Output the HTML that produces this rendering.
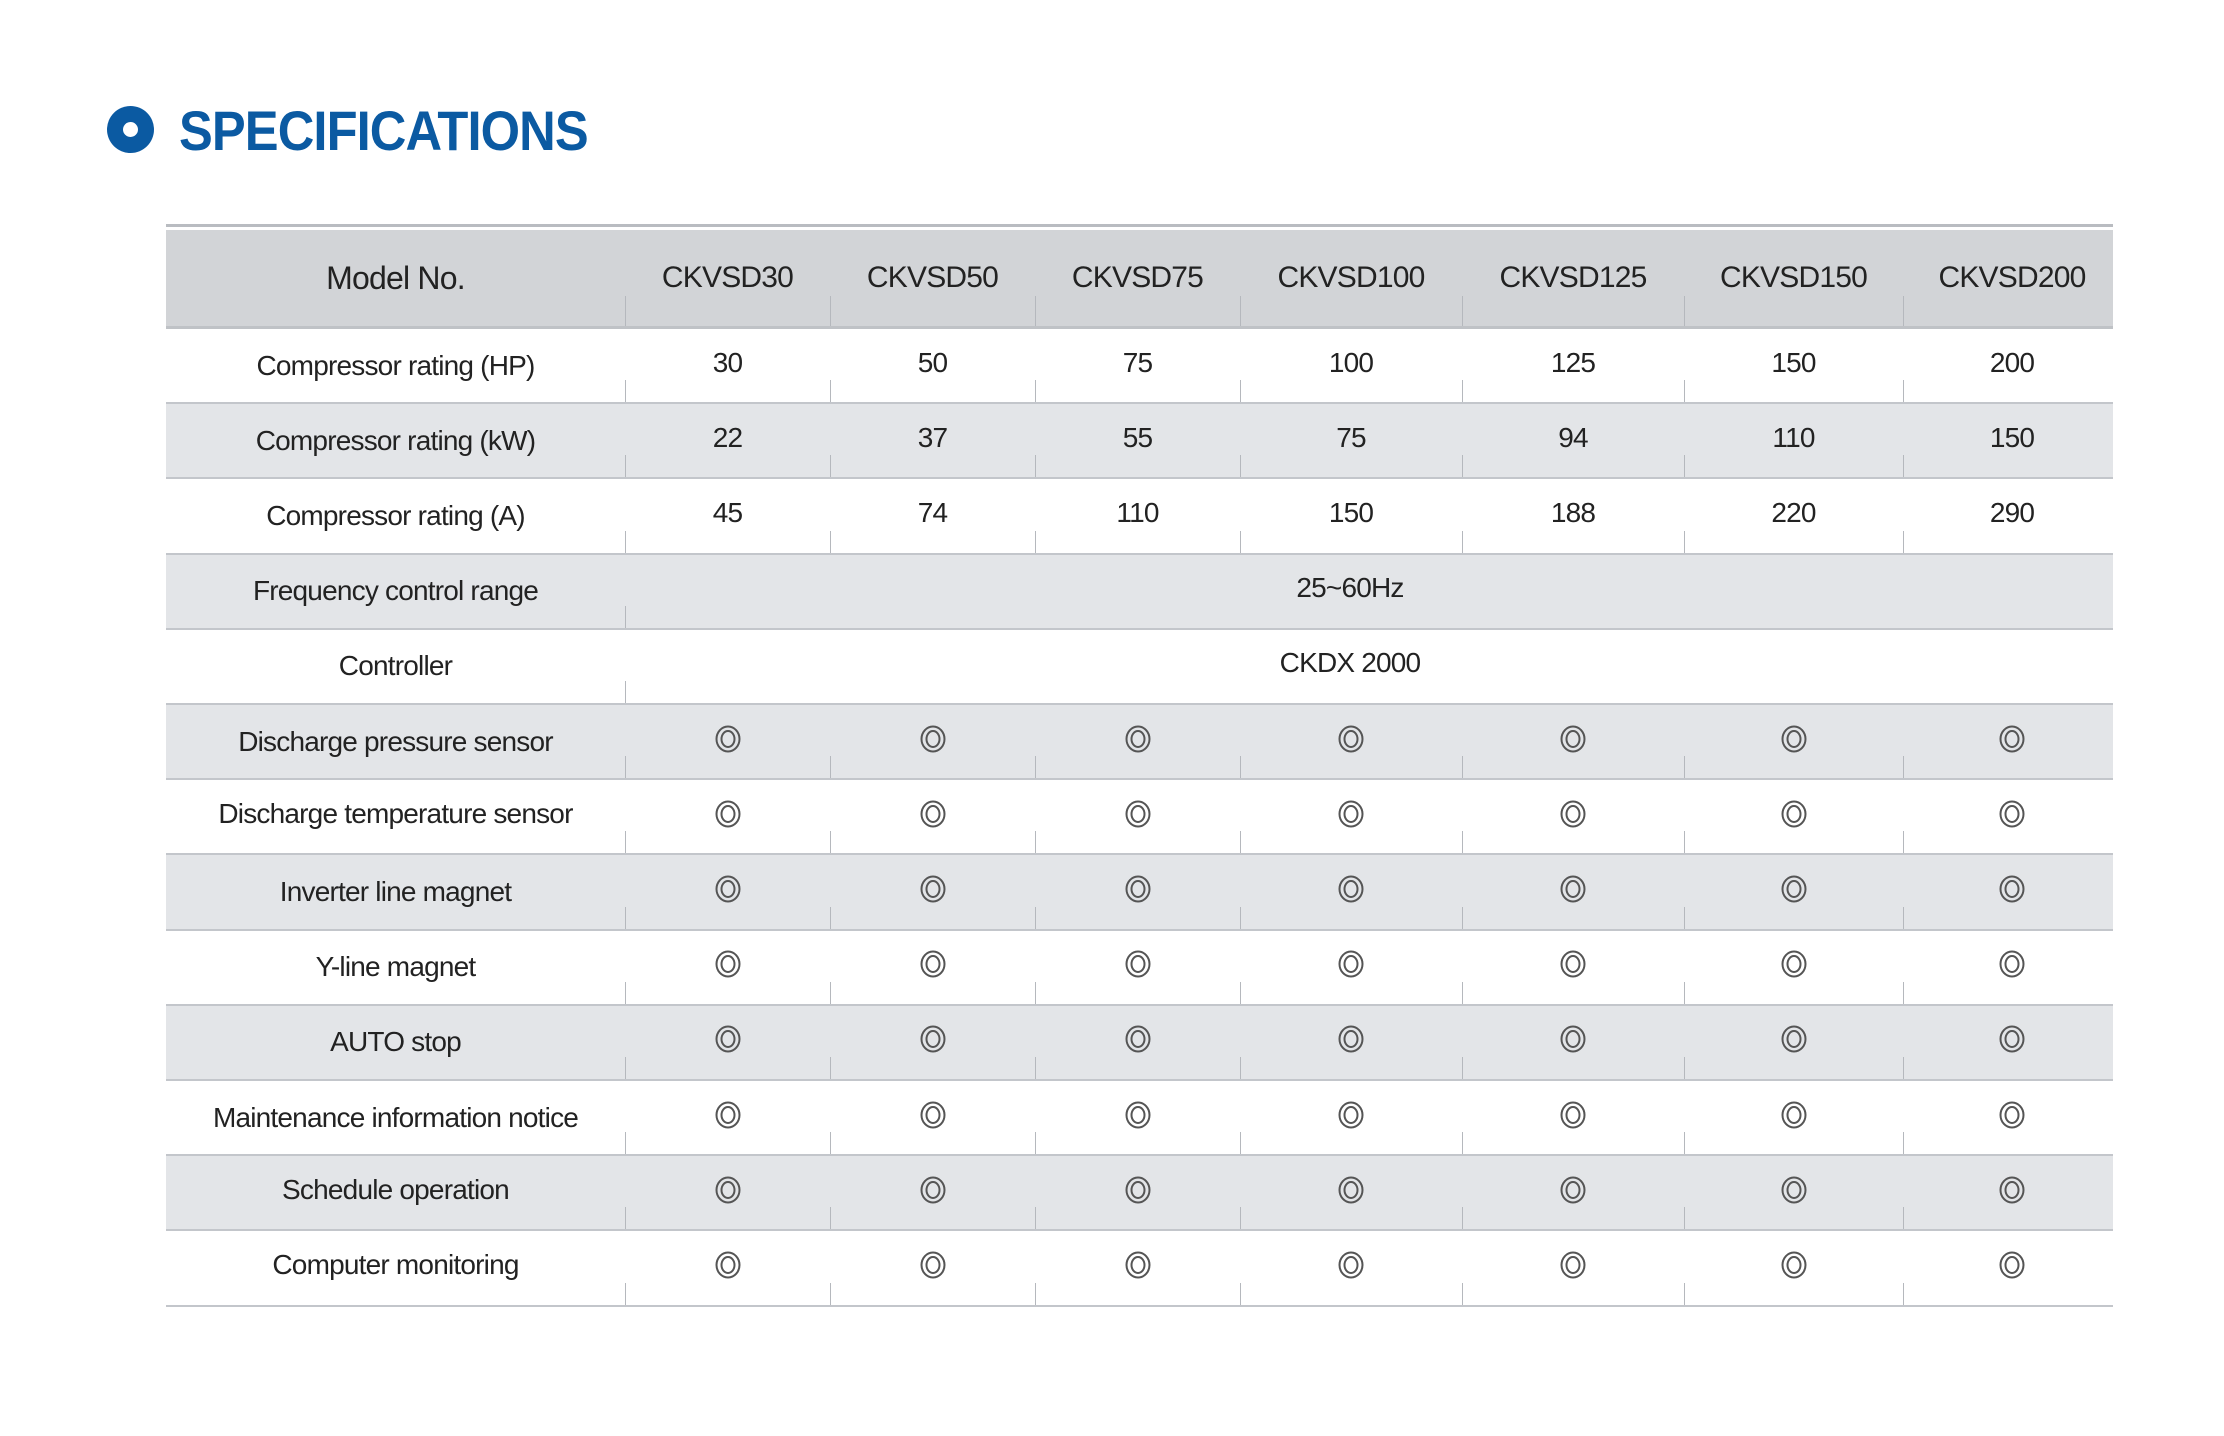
<!DOCTYPE html>
<html><head><meta charset="utf-8"><style>
*{margin:0;padding:0;box-sizing:border-box}
body{width:2224px;height:1436px;background:#fff;position:relative;overflow:hidden;font-family:"Liberation Sans",sans-serif;color:#222}
.dot{position:absolute;left:107px;top:106px;width:47px;height:47px;border-radius:50%;background:#0b5aa2}
.dot:after{content:"";position:absolute;left:16px;top:16px;width:15px;height:15px;border-radius:50%;background:#fff}
.title{position:absolute;left:179px;top:98px;font-size:56px;font-weight:bold;color:#0b5aa2;transform:scaleX(0.905);transform-origin:0 0;letter-spacing:-1px;white-space:nowrap}
.topline{position:absolute;left:166px;top:224px;width:1947px;height:3px;background:#b9bcc1}
.row{position:absolute;left:166px;width:1947px;height:75.2px;display:flex;border-bottom:2px solid #c3c6cb}
.g{background:#e3e5e8}
.hdr{top:230px;height:99px;background:#d2d4d7;border-bottom:3px solid #bfc2c6}
.c{position:relative;display:flex;align-items:center;justify-content:center;font-size:28px;letter-spacing:-0.8px;white-space:nowrap}
.c0{width:459px}.c1,.c2,.c3{width:205px}.c4,.c5{width:222px}.c6{width:219px}.c7{width:210px}
.c7{padding-left:8px}
.cm{width:1488px;padding-right:38px}
.v:before{content:"";position:absolute;left:0;bottom:0;height:22px;width:1px;background:#b5b8bd}
.hdr .v:before{height:30px}
.val{position:relative;top:-3px}
.hdr .c{font-size:30px}
.hdr .c0{font-size:32px}
.o{display:block;width:26px;height:28px;position:relative;top:-3px}
</style></head><body>
<svg width="0" height="0" style="position:absolute"><defs><g id="o"><ellipse cx="13" cy="14" rx="11.5" ry="12.5" fill="none" stroke="#555" stroke-width="2"/><ellipse cx="13" cy="14" rx="6.5" ry="8" fill="none" stroke="#555" stroke-width="2"/></g></defs></svg>
<div class="dot"></div>
<div class="title">SPECIFICATIONS</div>
<div class="topline"></div>

<div class="row hdr"><div class="c c0">Model No.</div><div class="c c1 v">CKVSD30</div><div class="c c2 v">CKVSD50</div><div class="c c3 v">CKVSD75</div><div class="c c4 v">CKVSD100</div><div class="c c5 v">CKVSD125</div><div class="c c6 v">CKVSD150</div><div class="c c7 v">CKVSD200</div></div>

<div class="row" style="top:329px"><div class="c c0">Compressor rating (HP)</div><div class="c c1 v"><span class="val">30</span></div><div class="c c2 v"><span class="val">50</span></div><div class="c c3 v"><span class="val">75</span></div><div class="c c4 v"><span class="val">100</span></div><div class="c c5 v"><span class="val">125</span></div><div class="c c6 v"><span class="val">150</span></div><div class="c c7 v"><span class="val">200</span></div></div>

<div class="row g" style="top:404.2px"><div class="c c0">Compressor rating (kW)</div><div class="c c1 v"><span class="val">22</span></div><div class="c c2 v"><span class="val">37</span></div><div class="c c3 v"><span class="val">55</span></div><div class="c c4 v"><span class="val">75</span></div><div class="c c5 v"><span class="val">94</span></div><div class="c c6 v"><span class="val">110</span></div><div class="c c7 v"><span class="val">150</span></div></div>

<div class="row" style="top:479.4px"><div class="c c0">Compressor rating (A)</div><div class="c c1 v"><span class="val">45</span></div><div class="c c2 v"><span class="val">74</span></div><div class="c c3 v"><span class="val">110</span></div><div class="c c4 v"><span class="val">150</span></div><div class="c c5 v"><span class="val">188</span></div><div class="c c6 v"><span class="val">220</span></div><div class="c c7 v"><span class="val">290</span></div></div>

<div class="row g" style="top:554.6px"><div class="c c0">Frequency control range</div><div class="c cm v"><span class="val">25~60Hz</span></div></div>

<div class="row" style="top:629.8px"><div class="c c0">Controller</div><div class="c cm v"><span class="val">CKDX 2000</span></div></div>

<div class="row g" style="top:705px"><div class="c c0">Discharge pressure sensor</div><div class="c c1 v"><svg class="o"><use href="#o"/></svg></div><div class="c c2 v"><svg class="o"><use href="#o"/></svg></div><div class="c c3 v"><svg class="o"><use href="#o"/></svg></div><div class="c c4 v"><svg class="o"><use href="#o"/></svg></div><div class="c c5 v"><svg class="o"><use href="#o"/></svg></div><div class="c c6 v"><svg class="o"><use href="#o"/></svg></div><div class="c c7 v"><svg class="o"><use href="#o"/></svg></div></div>

<div class="row" style="top:780.2px"><div class="c c0"><span class="val">Discharge temperature sensor</span></div><div class="c c1 v"><svg class="o"><use href="#o"/></svg></div><div class="c c2 v"><svg class="o"><use href="#o"/></svg></div><div class="c c3 v"><svg class="o"><use href="#o"/></svg></div><div class="c c4 v"><svg class="o"><use href="#o"/></svg></div><div class="c c5 v"><svg class="o"><use href="#o"/></svg></div><div class="c c6 v"><svg class="o"><use href="#o"/></svg></div><div class="c c7 v"><svg class="o"><use href="#o"/></svg></div></div>

<div class="row g" style="top:855.4px"><div class="c c0">Inverter line magnet</div><div class="c c1 v"><svg class="o"><use href="#o"/></svg></div><div class="c c2 v"><svg class="o"><use href="#o"/></svg></div><div class="c c3 v"><svg class="o"><use href="#o"/></svg></div><div class="c c4 v"><svg class="o"><use href="#o"/></svg></div><div class="c c5 v"><svg class="o"><use href="#o"/></svg></div><div class="c c6 v"><svg class="o"><use href="#o"/></svg></div><div class="c c7 v"><svg class="o"><use href="#o"/></svg></div></div>

<div class="row" style="top:930.6px"><div class="c c0">Y-line magnet</div><div class="c c1 v"><svg class="o"><use href="#o"/></svg></div><div class="c c2 v"><svg class="o"><use href="#o"/></svg></div><div class="c c3 v"><svg class="o"><use href="#o"/></svg></div><div class="c c4 v"><svg class="o"><use href="#o"/></svg></div><div class="c c5 v"><svg class="o"><use href="#o"/></svg></div><div class="c c6 v"><svg class="o"><use href="#o"/></svg></div><div class="c c7 v"><svg class="o"><use href="#o"/></svg></div></div>

<div class="row g" style="top:1005.8px"><div class="c c0">AUTO stop</div><div class="c c1 v"><svg class="o"><use href="#o"/></svg></div><div class="c c2 v"><svg class="o"><use href="#o"/></svg></div><div class="c c3 v"><svg class="o"><use href="#o"/></svg></div><div class="c c4 v"><svg class="o"><use href="#o"/></svg></div><div class="c c5 v"><svg class="o"><use href="#o"/></svg></div><div class="c c6 v"><svg class="o"><use href="#o"/></svg></div><div class="c c7 v"><svg class="o"><use href="#o"/></svg></div></div>

<div class="row" style="top:1081px"><div class="c c0">Maintenance information notice</div><div class="c c1 v"><svg class="o"><use href="#o"/></svg></div><div class="c c2 v"><svg class="o"><use href="#o"/></svg></div><div class="c c3 v"><svg class="o"><use href="#o"/></svg></div><div class="c c4 v"><svg class="o"><use href="#o"/></svg></div><div class="c c5 v"><svg class="o"><use href="#o"/></svg></div><div class="c c6 v"><svg class="o"><use href="#o"/></svg></div><div class="c c7 v"><svg class="o"><use href="#o"/></svg></div></div>

<div class="row g" style="top:1156.2px"><div class="c c0"><span class="val">Schedule operation</span></div><div class="c c1 v"><svg class="o"><use href="#o"/></svg></div><div class="c c2 v"><svg class="o"><use href="#o"/></svg></div><div class="c c3 v"><svg class="o"><use href="#o"/></svg></div><div class="c c4 v"><svg class="o"><use href="#o"/></svg></div><div class="c c5 v"><svg class="o"><use href="#o"/></svg></div><div class="c c6 v"><svg class="o"><use href="#o"/></svg></div><div class="c c7 v"><svg class="o"><use href="#o"/></svg></div></div>

<div class="row" style="top:1231.4px"><div class="c c0"><span class="val">Computer monitoring</span></div><div class="c c1 v"><svg class="o"><use href="#o"/></svg></div><div class="c c2 v"><svg class="o"><use href="#o"/></svg></div><div class="c c3 v"><svg class="o"><use href="#o"/></svg></div><div class="c c4 v"><svg class="o"><use href="#o"/></svg></div><div class="c c5 v"><svg class="o"><use href="#o"/></svg></div><div class="c c6 v"><svg class="o"><use href="#o"/></svg></div><div class="c c7 v"><svg class="o"><use href="#o"/></svg></div></div>
</body></html>
